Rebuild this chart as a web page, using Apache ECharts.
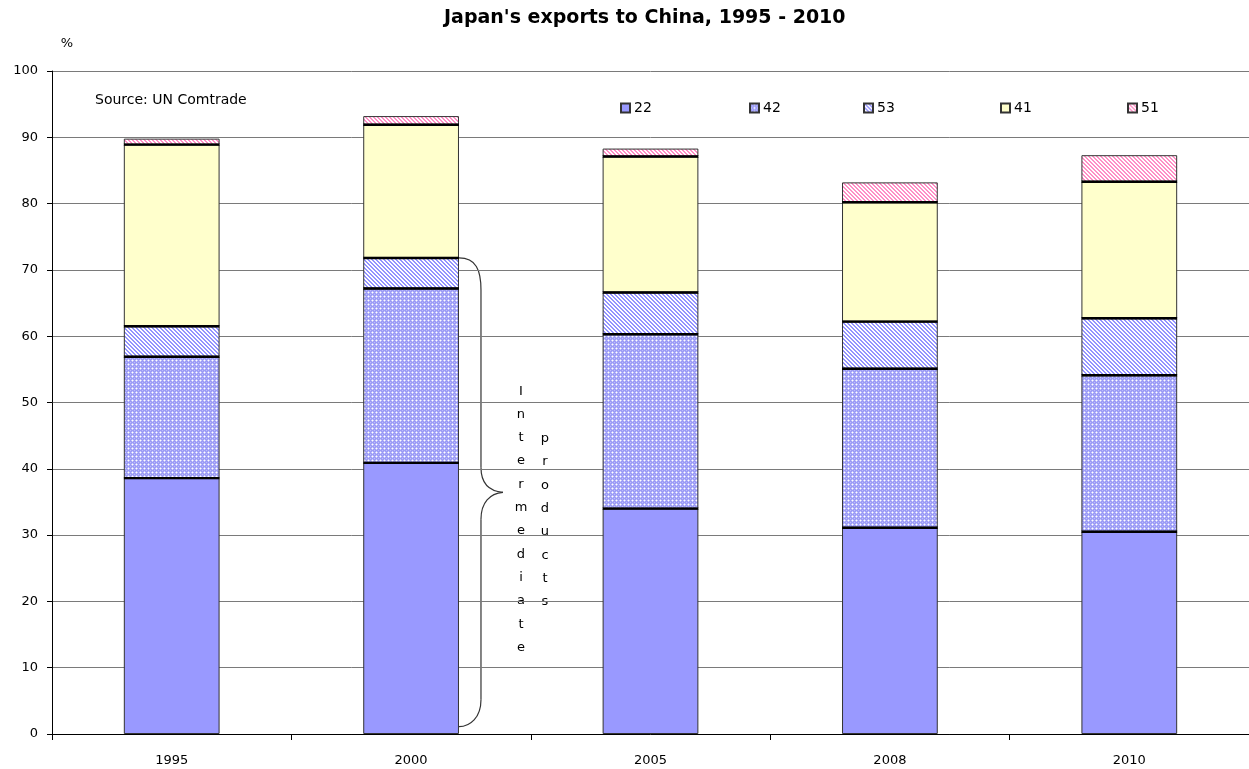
<!DOCTYPE html>
<html>
<head>
<meta charset="utf-8">
<script src="https://cdn.jsdelivr.net/npm/echarts@6/dist/echarts.min.js"></script>
<style>
  html, body { margin: 0; padding: 0; background: #fff; }
  #chart { width: 1249px; height: 769px; }
</style>
</head>
<body>
<div id="chart"></div>
<script>
// Japan's exports to China by SITC group, share of total (%)
const years = ['1995', '2000', '2005', '2008', '2010'];
const s22 = [38.6, 40.9, 34.0, 31.1, 30.5];
const s42 = [18.3, 26.3, 26.3, 24.0, 23.6];
const s53 = [4.6, 4.6, 6.3, 7.1, 8.6];
const s41 = [27.4, 20.1, 20.5, 18.0, 20.6];
const s51 = [0.9, 1.3, 1.2, 3.0, 4.0];
const yTicks = [0, 10, 20, 30, 40, 50, 60, 70, 80, 90, 100];

const FONT = 'DejaVu Sans';

// Small repeating tiles used as hatch fills
function tile(size, painter) {
  const c = document.createElement('canvas');
  c.width = size; c.height = size;
  const g = c.getContext('2d');
  painter(g, size);
  return { image: c, repeat: 'repeat' };
}
function px(g, color, pts) {
  g.fillStyle = color;
  pts.forEach(p => g.fillRect(p[0], p[1], 1, 1));
}
function dotted(g, n) {
  g.fillStyle = '#9c9cf6'; g.fillRect(0, 0, n, n);
  px(g, '#ffffff', [[0, 0]]);
  px(g, '#cdcdfb', [[1, 0], [0, 1], [3, 0], [0, 3]]);
  px(g, '#bdbdfa', [[2, 2]]);
}
function stripes(color) {
  return function (g, n) {
    g.fillStyle = '#ffffff'; g.fillRect(0, 0, n, n);
    g.fillStyle = color;
    for (let y = 0; y < n; y++) {
      for (let x = 0; x < n; x++) {
        const d = ((x - y) % n + n) % n;
        if (d < 2) g.fillRect(x, y, 1, 1);
      }
    }
  };
}

const fills = {
  '22': '#9999ff',
  '42': tile(4, dotted),
  '53': tile(4, stripes('#9494ff')),
  '41': '#ffffcc',
  '51': tile(4, stripes('#ff8fc6'))
};

const seriesDefs = [
  ['22', s22], ['42', s42], ['53', s53], ['41', s41], ['51', s51]
];
// left edge of each legend entry
const legendLefts = [620, 749, 863, 1000, 1127];

// Cumulative heights where one segment meets the next (tops of 22, 42, 53, 41)
const joints = [];
years.forEach((y, i) => {
  let acc = 0;
  seriesDefs.slice(0, 4).forEach(d => {
    acc += d[1][i];
    joints.push([i, +acc.toFixed(2)]);
  });
});

const chart = echarts.init(document.getElementById('chart'), null, { renderer: 'canvas' });

const barSeries = seriesDefs.map(([name, vals]) => ({
  name: name,
  type: 'bar',
  stack: 'total',
  barWidth: '40%',
  data: vals,
  itemStyle: { color: fills[name], borderColor: '#333', borderWidth: 1 },
  emphasis: { disabled: true }
}));

const jointSeries = {
  name: 'joints',
  type: 'custom',
  silent: true,
  z: 5,
  data: joints,
  renderItem: function (params, api) {
    const p = api.coord([api.value(0), api.value(1)]);
    const w = api.size([1, 0])[0] * 0.4;
    return {
      type: 'line',
      shape: { x1: p[0] - w / 2, y1: p[1], x2: p[0] + w / 2, y2: p[1] },
      style: { stroke: '#000', lineWidth: 2.4 }
    };
  }
};

const option = {
  animation: false,
  backgroundColor: '#ffffff',
  textStyle: { fontFamily: FONT },
  title: {
    text: "Japan's exports to China, 1995 - 2010",
    left: 444,
    top: 9,
    padding: 0,
    textStyle: { fontFamily: FONT, fontSize: 19, fontWeight: 'bold', color: '#000' }
  },
  legend: seriesDefs.map((d, i) => ({
    data: [d[0]],
    left: legendLefts[i],
    top: 101,
    padding: 0,
    itemWidth: 9,
    itemHeight: 9,
    itemGap: 0,
    icon: 'rect',
    selectedMode: false,
    textStyle: { fontFamily: FONT, fontSize: 14, color: '#000', padding: [0, 0, 0, -1] }
  })),
  grid: { left: 52, right: 0, top: 71, bottom: 35, containLabel: false },
  xAxis: {
    type: 'category',
    data: years,
    boundaryGap: true,
    axisLine: { lineStyle: { color: '#000', width: 1 } },
    axisTick: { show: true, length: 6, lineStyle: { color: '#000' } },
    axisLabel: { fontFamily: FONT, fontSize: 13, color: '#000', margin: 20 }
  },
  yAxis: {
    type: 'value',
    min: yTicks[0],
    max: yTicks[yTicks.length - 1],
    interval: 10,
    axisLine: { show: true, lineStyle: { color: '#000', width: 1 } },
    axisTick: { show: true, length: 5, lineStyle: { color: '#000' } },
    axisLabel: { fontFamily: FONT, fontSize: 13, color: '#000', margin: 14 },
    splitLine: { show: true, lineStyle: { color: '#7a7a7a', width: 1 } }
  },
  series: barSeries.concat([jointSeries]),
  graphic: []
};

chart.setOption(option);

// Curly brace marking the intermediate-goods block of the 2000 bar
function drawBrace() {
  const idx = 1;
  const braceTopVal = s22[idx] + s42[idx] + s53[idx];
  const braceBotVal = 1.1;
  const center = chart.convertToPixel({ xAxisIndex: 0 }, years[idx]);
  const bandW = chart.convertToPixel({ xAxisIndex: 0 }, years[idx + 1]) - center;
  const x0 = center + bandW * 0.2;
  const xm = x0 + 22;
  const xt = x0 + 44;
  const yTop = chart.convertToPixel({ yAxisIndex: 0 }, braceTopVal);
  const yBot = chart.convertToPixel({ yAxisIndex: 0 }, braceBotVal);
  const yMid = (yTop + yBot) / 2;
  const ls = { stroke: '#333', lineWidth: 1.2, fill: null };

  const els = [
    { type: 'bezierCurve', shape: { x1: x0, y1: yTop, cpx1: x0 + 17, cpy1: yTop, cpx2: xm, cpy2: yTop + 12, x2: xm, y2: yTop + 32 }, style: ls },
    { type: 'line', shape: { x1: xm, y1: yTop + 32, x2: xm, y2: yMid - 25 }, style: ls },
    { type: 'bezierCurve', shape: { x1: xm, y1: yMid - 25, cpx1: xm, cpy1: yMid - 8, cpx2: xm + 9, cpy2: yMid - 1, x2: xt, y2: yMid }, style: ls },
    { type: 'bezierCurve', shape: { x1: xt, y1: yMid, cpx1: xm + 9, cpy1: yMid + 1, cpx2: xm, cpy2: yMid + 10, x2: xm, y2: yMid + 27 }, style: ls },
    { type: 'line', shape: { x1: xm, y1: yMid + 27, x2: xm, y2: yBot - 27 }, style: ls },
    { type: 'bezierCurve', shape: { x1: xm, y1: yBot - 27, cpx1: xm, cpy1: yBot - 9, cpx2: xm - 11, cpy2: yBot, x2: x0, y2: yBot }, style: ls },
    {
      type: 'text', x: xt + 18, y: yMid + 27,
      style: {
        text: 'Intermediate'.split('').join('\n'),
        font: '13px ' + FONT, fill: '#000', align: 'center', verticalAlign: 'middle', lineHeight: 23.3
      }
    },
    {
      type: 'text', x: xt + 42, y: yMid + 28,
      style: {
        text: 'products'.split('').join('\n'),
        font: '13px ' + FONT, fill: '#000', align: 'center', verticalAlign: 'middle', lineHeight: 23.3
      }
    },
    {
      type: 'text', x: 67, y: 44,
      style: { text: '%', font: '13px ' + FONT, fill: '#000', align: 'center', verticalAlign: 'middle' }
    },
    {
      type: 'text', x: 95, y: 100,
      style: { text: 'Source: UN Comtrade', font: '14px ' + FONT, fill: '#000', align: 'left', verticalAlign: 'middle' }
    }
  ];
  chart.setOption({ graphic: els });
}
drawBrace();
</script>
</body>
</html>
